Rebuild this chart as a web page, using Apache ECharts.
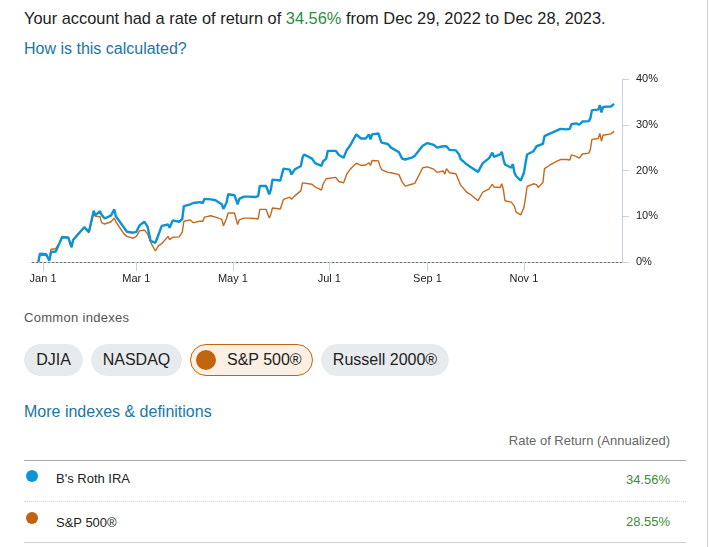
<!DOCTYPE html>
<html>
<head>
<meta charset="utf-8">
<script src="https://cdn.jsdelivr.net/npm/echarts@6.0.0/dist/echarts.min.js"></script>
<style>
  html, body { margin: 0; padding: 0; background: #fff; }
  body { width: 711px; height: 547px; position: relative; overflow: hidden;
         font-family: "Liberation Sans", Arial, sans-serif; color: #222; }
  .abs { position: absolute; white-space: nowrap; }
  .link { color: #1b75a6; }
  #chart { position: absolute; left: 0; top: 0; width: 711px; height: 300px; }
  .btn { position: absolute; top: 344px; height: 30px; border-radius: 16px; background: #e8ebee;
         border: 1px solid #e8ebee; font-size: 16px; line-height: 30px; text-align: center; color: #222; }
  .btn.on { background: #fcefe4; border-color: #c1650f; }
  .dot { position: absolute; border-radius: 50%; }
  .rule { position: absolute; left: 24px; width: 662px; height: 0; }
</style>
</head>
<body>
<div class="abs" style="left:24px; top:8px; font-size:16.4px; line-height:20px;">Your account had a rate of return of <span style="color:#2e8b3e">34.56%</span> from Dec 29, 2022 to Dec 28, 2023.</div>
<div class="abs link" style="left:24px; top:39px; font-size:16px; line-height:20px;">How is this calculated?</div>

<div id="chart"></div>

<div class="abs" style="left:24px; top:310px; font-size:13px; line-height:16px; color:#555; letter-spacing:0.3px;">Common indexes</div>
<div class="btn" style="left:24px; width:57px;">DJIA</div>
<div class="btn" style="left:91px; width:89px;">NASDAQ</div>
<div class="btn on" style="left:190px; width:121px; text-align:left;">
  <span class="dot" style="left:5px; top:5px; width:20px; height:20px; background:#c1650f;"></span>
  <span style="position:absolute; left:36px;">S&amp;P 500®</span>
</div>
<div class="btn" style="left:321px; width:126px;">Russell 2000®</div>

<div class="abs link" style="left:24px; top:402px; font-size:16px; line-height:20px;">More indexes &amp; definitions</div>

<div class="abs" style="right:41px; top:433px; font-size:13px; line-height:16px; color:#666;">Rate of Return (Annualized)</div>
<div class="rule" style="top:460px; border-top:1px solid #a3a8ad;"></div>

<span class="dot" style="left:26px; top:470px; width:12px; height:12px; background:#0d96d6;"></span>
<div class="abs" style="left:56px; top:471px; font-size:13px; line-height:16px;">B's Roth IRA</div>
<div class="abs" style="right:41px; top:472px; font-size:13px; line-height:16px; color:#3d8b37;">34.56%</div>
<div class="rule" style="top:501px; border-top:1px dotted #d4d4d4;"></div>

<span class="dot" style="left:26px; top:512px; width:12px; height:12px; background:#c1620e;"></span>
<div class="abs" style="left:56px; top:515px; font-size:13px; line-height:16px;">S&amp;P 500®</div>
<div class="abs" style="right:41px; top:514px; font-size:13px; line-height:16px; color:#3d8b37;">28.55%</div>
<div class="rule" style="top:542px; border-top:1px solid #cfcfcf;"></div>

<div style="position:absolute; left:707px; top:0; width:1px; height:547px; background:#d0d0d0;"></div>

<script>
var dates = [
  '2022-12-29','2022-12-30','2023-01-03','2023-01-04','2023-01-05','2023-01-06','2023-01-09','2023-01-11',
  '2023-01-13','2023-01-17','2023-01-19','2023-01-20','2023-01-24','2023-01-27','2023-01-30','2023-02-02',
  '2023-02-03','2023-02-06','2023-02-07','2023-02-09','2023-02-13','2023-02-15','2023-02-16','2023-02-21',
  '2023-02-23','2023-02-27','2023-03-01','2023-03-03','2023-03-06','2023-03-08','2023-03-10','2023-03-13',
  '2023-03-15','2023-03-17','2023-03-21','2023-03-22','2023-03-24','2023-03-28','2023-03-30','2023-03-31',
  '2023-04-04','2023-04-06','2023-04-10','2023-04-12','2023-04-13','2023-04-17','2023-04-20','2023-04-24',
  '2023-04-25','2023-04-27','2023-04-28','2023-05-02','2023-05-04','2023-05-05','2023-05-08','2023-05-11',
  '2023-05-15','2023-05-17','2023-05-18','2023-05-22','2023-05-24','2023-05-25','2023-05-26','2023-05-31',
  '2023-06-02','2023-06-06','2023-06-07','2023-06-09','2023-06-13','2023-06-14','2023-06-15','2023-06-20',
  '2023-06-22','2023-06-26','2023-06-27','2023-06-29','2023-06-30','2023-07-05','2023-07-07','2023-07-10',
  '2023-07-12','2023-07-14','2023-07-18','2023-07-19','2023-07-21','2023-07-24','2023-07-26','2023-07-27',
  '2023-07-28','2023-08-01','2023-08-02','2023-08-03','2023-08-07','2023-08-09','2023-08-14','2023-08-16',
  '2023-08-18','2023-08-22','2023-08-24','2023-08-25','2023-08-29','2023-09-01','2023-09-05','2023-09-07',
  '2023-09-11','2023-09-12','2023-09-13','2023-09-15','2023-09-19','2023-09-21','2023-09-22','2023-09-26',
  '2023-09-28','2023-09-29','2023-10-03','2023-10-04','2023-10-06','2023-10-10','2023-10-12','2023-10-13',
  '2023-10-17','2023-10-18','2023-10-19','2023-10-20','2023-10-24','2023-10-25','2023-10-26','2023-10-27',
  '2023-10-30','2023-11-01','2023-11-02','2023-11-03','2023-11-07','2023-11-08','2023-11-09','2023-11-10',
  '2023-11-13','2023-11-14','2023-11-17','2023-11-21','2023-11-24','2023-11-28','2023-11-30','2023-12-01',
  '2023-12-04','2023-12-06','2023-12-08','2023-12-12','2023-12-13','2023-12-14','2023-12-18','2023-12-19',
  '2023-12-20','2023-12-21','2023-12-26','2023-12-27','2023-12-28'
];
// B's Roth IRA, % return since Dec 29 2022
var accountValues = [
  0, 1.8, 1.7, 1.4, 0.3, 2.2, 2.3, 3.8,
  5.4, 5.3, 3.2, 4.8, 6.4, 7.6, 6.6, 11.2,
  10.2, 11.1, 10.3, 9.5, 10.2, 11.5, 10.0, 7.6,
  6.6, 6.4, 6.6, 8.0, 8.8, 7.8, 4.6, 4.2,
  6.0, 7.9, 8.2, 7.5, 9.1, 8.8, 9.4, 12.2,
  12.6, 12.9, 13.1, 12.9, 13.8, 13.7, 13.5, 12.6,
  11.6, 13.0, 14.8, 14.6, 12.6, 13.8, 14.3, 14.3,
  14.2, 14.4, 16.6, 16.6, 14.8, 15.8, 18.0, 17.8,
  20.4, 20.2, 19.1, 20.2, 21.0, 22.8, 23.5, 22.6,
  21.6, 21.0, 22.0, 22.6, 24.3, 24.3, 23.4, 22.8,
  24.5, 25.4, 27.9, 28.1, 27.0, 27.0, 27.9, 26.8,
  27.9, 28.1, 27.0, 26.1, 25.8, 25.0, 24.0, 22.6,
  22.4, 22.8, 23.2, 23.0, 25.4, 26.0, 25.6, 25.0,
  25.3, 24.9, 25.3, 24.5, 24.4, 23.5, 22.5, 21.3,
  20.8, 21.2, 19.7, 20.0, 21.6, 22.7, 23.9, 23.0,
  23.5, 24.1, 22.5, 21.3, 20.6, 21.4, 19.5, 18.8,
  17.8, 19.5, 21.6, 23.5, 24.2, 24.2, 25.3, 24.9,
  25.8, 27.5, 28.0, 28.6, 29.1, 29.0, 29.1, 30.1,
  30.3, 30.0, 30.7, 30.8, 31.4, 33.2, 33.3, 34.3,
  32.7, 33.9, 34.0, 34.4, 34.56
];
// S&P 500, % return since Dec 29 2022
var sp500Values = [
  0, 1.5, 1.4, 1.3, 0.5, 2.8, 2.9, 4.0,
  5.6, 5.4, 3.4, 4.9, 6.5, 7.5, 6.4, 10.7,
  10.0, 9.9, 8.6, 8.3, 8.8, 9.6, 8.8, 6.2,
  5.6, 5.2, 5.6, 6.8, 7.0, 6.2, 4.3, 2.4,
  3.6, 4.0, 5.6, 4.9, 5.4, 5.5, 6.5, 8.9,
  9.2, 8.6, 8.9, 8.9, 9.8, 10.1, 9.8, 9.3,
  7.9, 9.5, 10.7, 10.7, 8.2, 9.2, 9.6, 9.6,
  9.5, 9.4, 11.5, 11.5, 9.6, 10.4, 11.8, 11.6,
  13.7, 14.2, 13.7, 14.4, 15.6, 17.3, 17.5, 17.0,
  16.4, 15.7, 17.0, 18.2, 18.6, 18.5, 17.6, 17.3,
  19.2, 20.2, 21.6, 21.3, 21.1, 21.2, 21.7, 21.1,
  22.2, 22.1, 21.0, 20.2, 19.6, 19.5, 19.1, 17.5,
  16.6, 17.0, 17.2, 17.5, 20.6, 20.8, 20.3, 19.6,
  19.9, 19.2, 20.4, 19.5, 19.3, 17.6, 16.8, 15.2,
  14.8, 15.0, 13.4, 13.8, 15.3, 16.0, 17.0, 16.4,
  16.3, 17.1, 15.8, 13.4, 13.1, 13.4, 12.2, 10.9,
  10.3, 11.9, 14.0, 16.5, 17.1, 17.2, 16.9, 16.3,
  17.4, 20.4, 21.1, 21.9, 22.4, 22.4, 22.3, 23.4,
  23.1, 22.7, 23.6, 23.8, 24.6, 26.8, 27.0, 28.1,
  26.4, 27.7, 28.0, 28.3, 28.55
];
var tickDates = ['2023-01-01', '2023-03-01', '2023-05-01', '2023-07-01', '2023-09-01', '2023-11-01'];
var tickLabels = ['Jan 1', 'Mar 1', 'May 1', 'Jul 1', 'Sep 1', 'Nov 1'];
var yTicks = [0, 10, 20, 30, 40];

function toTime(s) {
  var p = s.split('-');
  return Date.UTC(+p[0], +p[1] - 1, +p[2]);
}
function pairs(vals) {
  var out = [];
  for (var i = 0; i < dates.length; i++) {
    out.push([toTime(dates[i]), vals[i]]);
  }
  return out;
}

var tickTimes = tickDates.map(toTime);
var axisColor = '#c5d3e6';

var myChart = echarts.init(document.getElementById('chart'));
var option = {
  animation: false,
  grid: { left: 32, right: 89, top: 79, bottom: 38 },
  xAxis: {
    // dates as UTC timestamps on a numeric axis, ticks at the first of every other month
    type: 'value',
    min: toTime('2022-12-25'),
    max: toTime('2024-01-02'),
    axisLine: { show: true, lineStyle: { color: '#6b6f75', type: [2, 2], width: 1 } },
    axisTick: { show: true, customValues: tickTimes, length: 9, lineStyle: { color: axisColor } },
    axisLabel: {
      customValues: tickTimes,
      margin: 11,
      color: '#222',
      fontSize: 11,
      fontFamily: 'Liberation Sans',
      formatter: function (v) {
        var i = tickTimes.indexOf(+v);
        return i >= 0 ? tickLabels[i] : '';
      }
    },
    splitLine: { show: false }
  },
  yAxis: {
    type: 'value',
    position: 'right',
    min: yTicks[0],
    max: yTicks[yTicks.length - 1],
    interval: 10,
    axisLine: { show: true, lineStyle: { color: axisColor } },
    axisTick: { show: true, length: 7, lineStyle: { color: axisColor } },
    axisLabel: { margin: 14, color: '#222', fontSize: 11, fontFamily: 'Liberation Sans', formatter: '{value}%' },
    splitLine: { show: false }
  },
  series: [
    {
      name: 'S&P 500®',
      type: 'line',
      data: pairs(sp500Values),
      showSymbol: false,
      symbol: 'none',
      lineStyle: { color: '#c4691c', width: 1.4 },
      z: 2
    },
    {
      name: "B's Roth IRA",
      type: 'line',
      data: pairs(accountValues),
      showSymbol: false,
      symbol: 'none',
      lineStyle: { color: '#0b93d4', width: 2.4 },
      z: 3
    }
  ]
};
myChart.setOption(option, true);
</script>
</body>
</html>
